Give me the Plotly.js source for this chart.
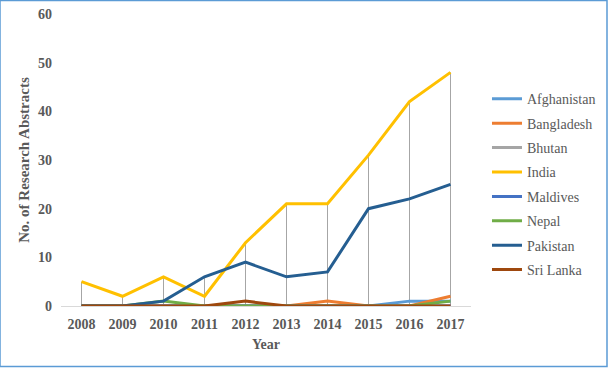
<!DOCTYPE html>
<html>
<head>
<meta charset="utf-8">
<script src="https://cdn.plot.ly/plotly-3.0.1.min.js"></script>
<style>
html,body{margin:0;padding:0;background:#fff;}
#chart{width:608px;height:368px;}
</style>
</head>
<body>
<div id="chart"></div>
<script>
const years = ['2008','2009','2010','2011','2012','2013','2014','2015','2016','2017'];
const afghanistan = [0,0,0,0,0,0,0,0,1,1];
const bangladesh  = [0,0,0,0,0,0,1,0,0,2];
const bhutan      = [0,0,0,0,0,0,0,0,0,0];
const india       = [5,2,6,2,13,21,21,31,42,48];
const maldives    = [0,0,0,0,0,0,0,0,0,0];
const nepal       = [0,0,1,0,0,0,0,0,0,1];
const pakistan    = [0,0,1,6,9,6,7,20,22,25];
const sriLanka    = [0,0,0,0,1,0,0,0,0,0];
const yTicks = [0,10,20,30,40,50,60];

const seriesNames = ['Afghanistan','Bangladesh','Bhutan','India','Maldives','Nepal','Pakistan','Sri Lanka'];
const seriesData = [afghanistan,bangladesh,bhutan,india,maldives,nepal,pakistan,sriLanka];
const colors = ['#5B9BD5','#ED7D31','#A5A5A5','#FFC000','#4472C4','#70AD47','#255E91','#9E480E'];

// drop lines from the highest value down to the axis
const dropX = [], dropY = [];
years.forEach((yr,i)=>{
  const m = Math.max(...seriesData.map(s=>s[i]));
  dropX.push(yr,yr,null); dropY.push(0,m,null);
});

const traces = [{
  x: dropX, y: dropY, type:'scatter', mode:'lines',
  line:{color:'#A6A6A6', width:1}, showlegend:false, hoverinfo:'skip', connectgaps:false
}];
seriesNames.forEach((n,i)=>{
  traces.push({
    x: years, y: seriesData[i], name: n, type:'scatter', mode:'lines',
    line:{color: colors[i], width:3}, legendgroup: 'g'+i
  });
});

const FAM = 'Liberation Serif, Times New Roman, serif';
const C = '#595959';

const layout = {
  width:608, height:368,
  margin:{l:61, r:137, t:14, b:62, autoexpand:false},
  paper_bgcolor:'#fff', plot_bgcolor:'#fff',
  showlegend:true,
  font:{family:FAM, size:13, color:C},
  xaxis:{
    type:'category', range:[-0.5, 9.5], showgrid:false, zeroline:false,
    showline:true, linecolor:'#D9D9D9', linewidth:1, ticks:'',
    tickfont:{family:FAM, size:14, color:C, weight:'bold'},
    ticklabelstandoff: 5,
    title:{text:'<b>Year</b>', font:{family:FAM, size:14, color:C}, standoff: 8}
  },
  yaxis:{
    range:[0,60], tickvals: yTicks, showgrid:false, zeroline:false, showline:false, ticks:'',
    tickfont:{family:FAM, size:14, color:C, weight:'bold'},
    ticklabelstandoff: 8,
    title:{text:'<b>No. of Research Abstracts</b>', font:{family:FAM, size:15, color:C}, standoff: 4}
  },
  legend:{
    x:1.039, xanchor:'left', xref:'paper', y:0.763, yanchor:'top',
    font:{family:FAM, size:14, color:C},
    traceorder:'grouped', tracegroupgap:3.2, itemwidth:30,
    bgcolor:'rgba(0,0,0,0)'
  },
  shapes:[{
    type:'rect', xref:'paper', yref:'paper', layer:'above',
    x0:-61/410, x1:(607-61)/410, y0:(368-366.5-62)/292, y1:(368-0.5-62)/292,
    line:{color:'#5B9BD5', width:1.5}
  }]
};

Plotly.newPlot('chart', traces, layout, {displayModeBar:false, staticPlot:true});
</script>
</body>
</html>
